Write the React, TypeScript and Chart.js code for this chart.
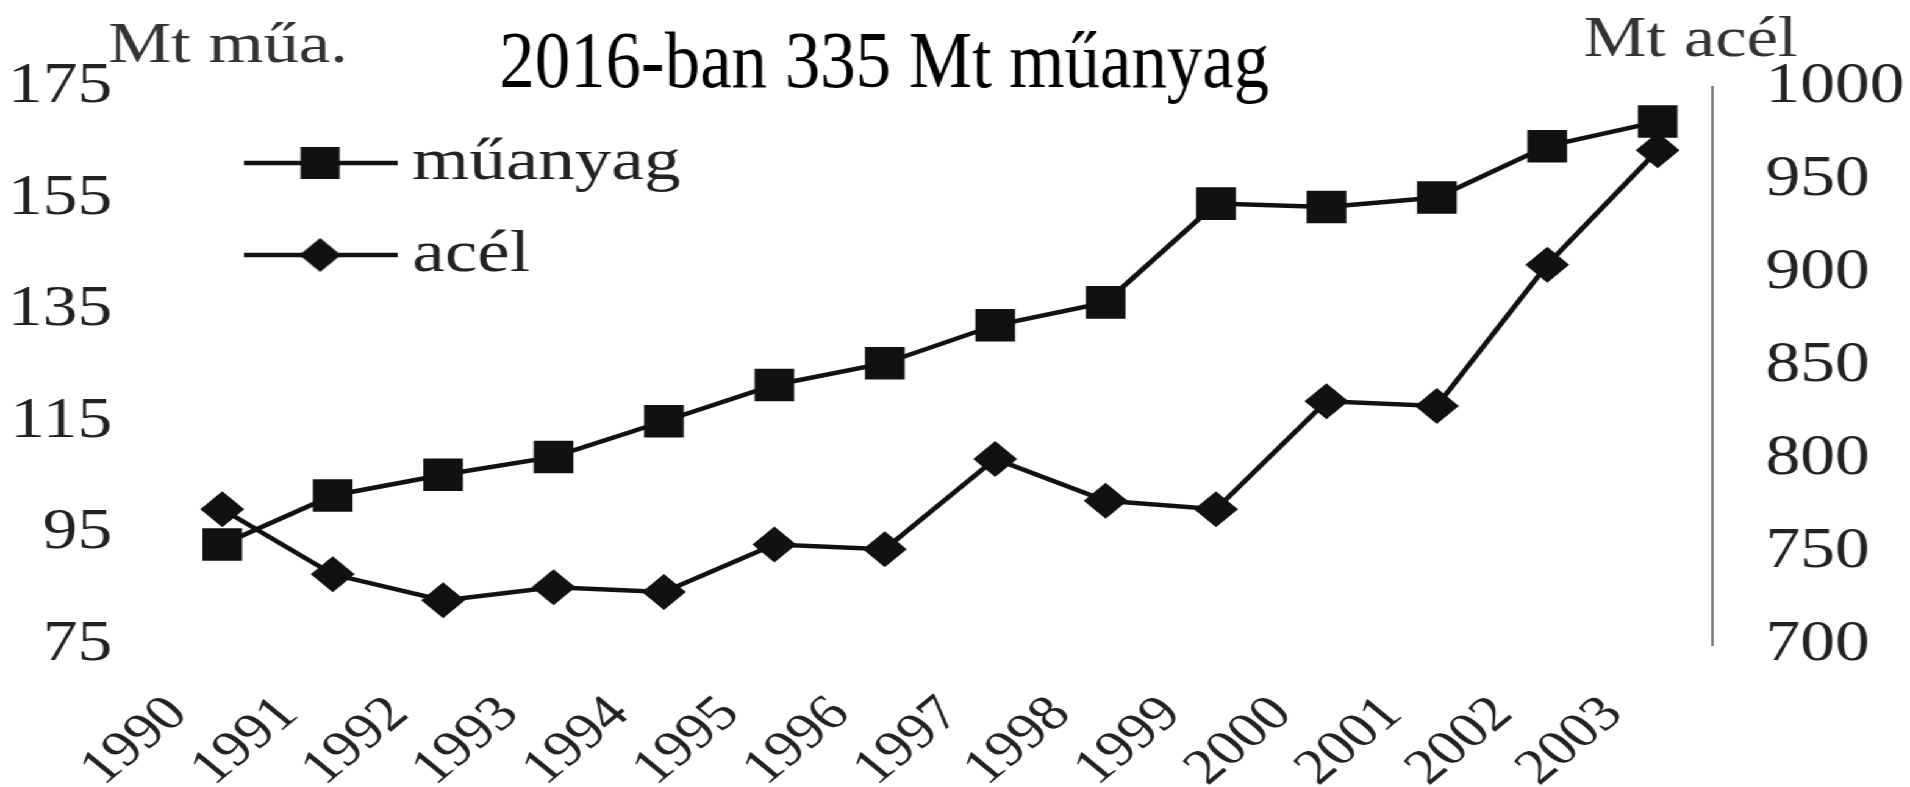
import React, { useEffect, useRef } from 'react';
import { Chart, registerables } from 'chart.js';

Chart.register(...registerables);

// ---- data ----
const years = ['1990', '1991', '1992', '1993', '1994', '1995', '1996', '1997', '1998', '1999', '2000', '2001', '2002', '2003'];
const plasticMt = [93.0, 101.8, 105.5, 108.7, 115.1, 121.6, 125.5, 132.3, 136.4, 154.1, 153.5, 155.2, 164.4, 168.8];
const steelMt = [773, 738, 724, 731, 728.5, 754, 751.5, 800, 777.5, 773, 831, 828.5, 904.5, 966];
const seriesNames = ['műanyag', 'acél'];
const leftTicks = [75, 95, 115, 135, 155, 175];
const rightTicks = [700, 750, 800, 850, 900, 950, 1000];
const titleText = '2016-ban 335 Mt műanyag';
const leftUnit = 'Mt műa.';
const rightUnit = 'Mt acél';

// ---- layout ----
const FULL_W = 1910;
const FULL_H = 787;
const INNER_W = 1566;
const STRETCH = FULL_W / INNER_W;
const SERIF = '"Liberation Serif", "Times New Roman", serif';
const INK = '#111';
const TEXT = '#222';

function makeIcon(style: 'rect' | 'rectRot'): HTMLCanvasElement {
  const c = document.createElement('canvas');
  c.width = 126;
  c.height = 40;
  const g = c.getContext('2d')!;
  g.strokeStyle = INK;
  g.lineWidth = 4.5;
  g.beginPath();
  g.moveTo(0, 20);
  g.lineTo(126, 20);
  g.stroke();
  g.fillStyle = INK;
  if (style === 'rect') {
    g.fillRect(63 - 16, 20 - 16, 32, 32);
  } else {
    g.beginPath();
    g.moveTo(63 - 17, 20);
    g.lineTo(63, 3);
    g.lineTo(63 + 17, 20);
    g.lineTo(63, 37);
    g.closePath();
    g.fill();
  }
  return c;
}

const legendPlacer = {
  id: 'legendPlacer',
  afterLayout(chart: any) {
    const lg = chart.legend;
    if (!lg) return;
    lg.left = 185;
    lg.top = 101;
    lg.right = lg.left + lg.width;
    lg.bottom = lg.top + 400;
  },
};

const overlayTexts = {
  id: 'overlayTexts',
  afterDraw(chart: any) {
    const ctx: CanvasRenderingContext2D = chart.ctx;
    // title (condensed)
    ctx.save();
    ctx.fillStyle = '#000';
    ctx.textAlign = 'center';
    ctx.textBaseline = 'alphabetic';
    ctx.font = `80px ${SERIF}`;
    const w = ctx.measureText(titleText).width;
    const sx = 770 / STRETCH / w;
    ctx.translate(725, 87);
    ctx.scale(sx, 1);
    ctx.fillText(titleText, 0, 0);
    ctx.restore();
    // unit labels
    ctx.save();
    ctx.fillStyle = '#333';
    ctx.textAlign = 'center';
    ctx.textBaseline = 'alphabetic';
    ctx.font = `58px ${SERIF}`;
    ctx.fillText(leftUnit, 187, 62);
    ctx.fillText(rightUnit, 1386, 56);
    ctx.restore();
  },
};

export default function App() {
  const ref = useRef<HTMLCanvasElement>(null);

  useEffect(() => {
    document.body.style.margin = '0';
    const canvas = ref.current;
    if (!canvas) return;
    const icons = [makeIcon('rect'), makeIcon('rectRot')];
    const tickFont = { family: SERIF, size: 57 };
    const plain = (v: any) => String(v);

    const chart = new Chart(canvas, {
      type: 'line',
      data: {
        labels: years,
        datasets: [
          {
            label: seriesNames[0],
            data: plasticMt,
            yAxisID: 'y',
            borderColor: INK,
            backgroundColor: INK,
            borderWidth: 4.5,
            pointStyle: 'rect',
            pointRadius: 23,
            pointBorderWidth: 0,
            pointBackgroundColor: INK,
            tension: 0,
          },
          {
            label: seriesNames[1],
            data: steelMt,
            yAxisID: 'y1',
            borderColor: INK,
            backgroundColor: INK,
            borderWidth: 4.5,
            pointStyle: 'rectRot',
            pointRadius: 18,
            pointBorderWidth: 0,
            pointBackgroundColor: INK,
            tension: 0,
          },
        ],
      },
      options: {
        responsive: true,
        maintainAspectRatio: false,
        animation: false,
        layout: { padding: { top: 87, left: 0, right: 0, bottom: 0 } },
        plugins: {
          title: { display: false },
          tooltip: { enabled: false },
          legend: {
            position: 'chartArea' as any,
            align: 'start',
            labels: {
              usePointStyle: true,
              pointStyleWidth: 91,
              padding: 32,
              color: TEXT,
              font: { family: SERIF, size: 60 },
              generateLabels: (ch: any) =>
                ch.data.datasets.map((ds: any, i: number) => ({
                  text: ds.label,
                  datasetIndex: i,
                  hidden: false,
                  pointStyle: icons[i],
                  fillStyle: INK,
                  strokeStyle: INK,
                  lineWidth: 0,
                  fontColor: TEXT,
                })),
            },
          },
        },
        scales: {
          x: {
            type: 'category',
            offset: true,
            grid: { display: false, drawTicks: false },
            border: { display: false },
            ticks: {
              autoSkip: false,
              maxRotation: 45,
              minRotation: 45,
              padding: 40,
              labelOffset: -36,
              color: TEXT,
              font: { family: SERIF, size: 50 },
            },
            afterFit: (s: any) => {
              s.height = FULL_H - 645;
            },
          },
          y: {
            position: 'left',
            min: 75,
            max: 175,
            grid: { display: false, drawTicks: false },
            border: { display: false },
            ticks: { padding: 45, color: TEXT, font: tickFont, callback: plain },
            afterBuildTicks: (s: any) => {
              s.ticks = leftTicks.map((v) => ({ value: v }));
            },
            afterFit: (s: any) => {
              s.width = 137;
            },
          },
          y1: {
            position: 'right',
            min: 700,
            max: 1000,
            grid: { display: false, drawTicks: false },
            border: { display: true, color: '#777', width: 2 },
            ticks: { padding: 43, color: TEXT, font: tickFont, callback: plain },
            afterBuildTicks: (s: any) => {
              s.ticks = rightTicks.map((v) => ({ value: v }));
            },
            afterFit: (s: any) => {
              s.width = INNER_W - 1404.4;
            },
          },
        },
      } as any,
      plugins: [legendPlacer, overlayTexts],
    });

    return () => {
      chart.destroy();
    };
  }, []);

  return (
    <div
      style={{
        position: 'fixed',
        left: 0,
        top: 0,
        width: INNER_W,
        height: FULL_H,
        transform: `scaleX(${STRETCH})`,
        transformOrigin: '0 0',
        background: '#fff',
      }}
    >
      <canvas ref={ref} />
    </div>
  );
}
